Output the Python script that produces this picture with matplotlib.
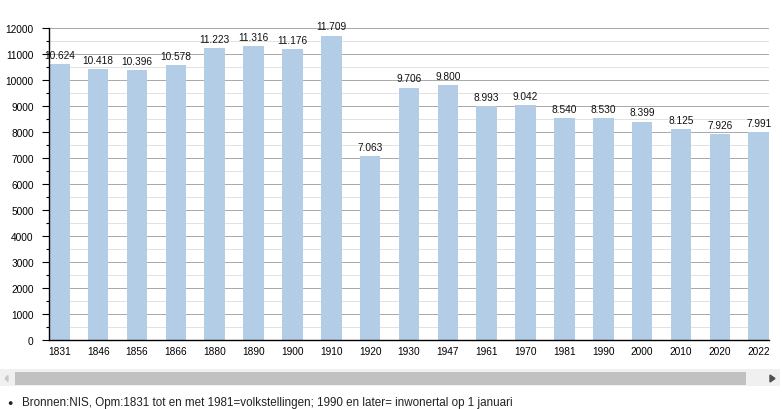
import matplotlib
matplotlib.use('Agg')
import matplotlib.pyplot as plt
from matplotlib.patches import Rectangle, Polygon
from matplotlib.ticker import MultipleLocator

plt.rcParams['font.family'] = ['Liberation Sans', 'DejaVu Sans']

years = ["1831", "1846", "1856", "1866", "1880", "1890", "1900", "1910", "1920", "1930",
         "1947", "1961", "1970", "1981", "1990", "2000", "2010", "2020", "2022"]
inwoners = [10624, 10418, 10396, 10578, 11223, 11316, 11176, 11709, 7063, 9706,
            9800, 8993, 9042, 8540, 8530, 8399, 8125, 7926, 7991]
footnote = "Bronnen:NIS, Opm:1831 tot en met 1981=volkstellingen; 1990 en later= inwonertal op 1 januari"

W, H = 782, 410
fig = plt.figure(figsize=(W / 100, H / 100), dpi=100)
ax = fig.add_axes([49 / W, 1 - 341 / H, 720 / W, 312 / H])

x = range(len(years))
ax.bar(x, inwoners, width=0.53, color="#b3cde6", zorder=2)
for i, v in enumerate(inwoners):
    label = "{:,}".format(v).replace(",", ".")
    ax.annotate(label, (i, v), xytext=(0, 3), textcoords="offset points",
                ha="center", va="bottom", fontsize=7.3, color="#111111", zorder=3)

ax.set_xlim(-0.265, len(years) - 1 + 0.265)
ax.set_ylim(0, 12000)
ax.yaxis.set_major_locator(MultipleLocator(1000))
ax.yaxis.set_minor_locator(MultipleLocator(500))
ax.set_xticks(list(x))
ax.set_xticklabels(years)

ax.grid(axis="y", which="major", color="#a8a8a8", linewidth=0.7, zorder=0)
ax.grid(axis="y", which="minor", color="#e2e2e2", linewidth=0.7, zorder=0)
ax.set_axisbelow(True)

for side in ["top", "right"]:
    ax.spines[side].set_visible(False)
ax.spines["left"].set_linewidth(1.0)
ax.spines["bottom"].set_linewidth(1.0)
ax.tick_params(axis="y", which="major", length=5, width=0.8, labelsize=7.3, pad=6)
ax.tick_params(axis="y", which="minor", length=2.5, width=0.8)
ax.tick_params(axis="x", length=0, labelsize=7.3, pad=4)

# scrollbar under the chart
fig.patches.append(Rectangle((0, 1 - 387 / H), 780 / W, 17 / H, transform=fig.transFigure,
                             facecolor="#f0f0f0", edgecolor="none"))
fig.patches.append(Rectangle((15 / W, 1 - 386 / H), 731 / W, 13 / H, transform=fig.transFigure,
                             facecolor="#c1c1c1", edgecolor="none"))
fig.patches.append(Polygon([(8 / W, 1 - 376.5 / H), (5 / W, 1 - 379.5 / H), (8 / W, 1 - 382.5 / H)],
                           closed=True, transform=fig.transFigure, facecolor="#c8c8c8", edgecolor="#c8c8c8"))
fig.patches.append(Polygon([(770 / W, 1 - 376 / H), (775 / W, 1 - 379.5 / H), (770 / W, 1 - 383 / H)],
                           closed=True, transform=fig.transFigure, facecolor="#505050", edgecolor="#505050"))

fig.text(10 / W, 1 - 404 / H, "\u25cf", fontsize=6.5, va="center", ha="center", color="#222222")
fig.text(22 / W, 1 - 403 / H, footnote, fontsize=8.4, va="center", ha="left", color="#222222")

plt.savefig("out.png", dpi=100)
